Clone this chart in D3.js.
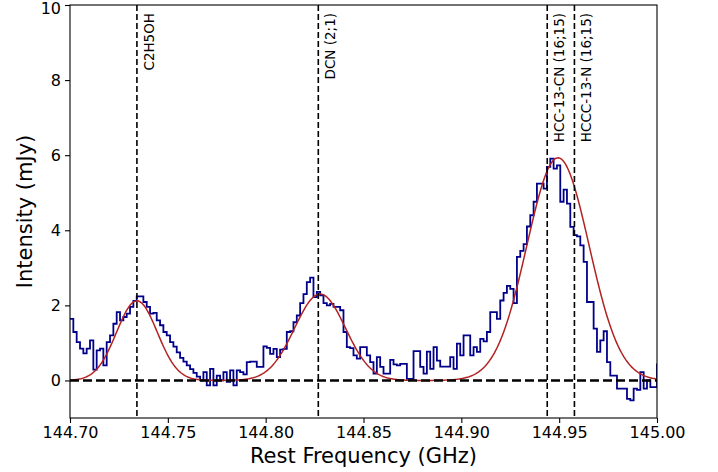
<!DOCTYPE html>
<html>
<head>
<meta charset="utf-8">
<script src="https://cdn.jsdelivr.net/npm/d3@7"></script>
<style>
  body { margin: 0; background: #fff; }
  text { font-family: "DejaVu Sans", sans-serif; fill: #000; }
</style>
</head>
<body>
<div id="chart"></div>
<script>
// spectrum: channels start at 144.70 GHz, constant channel width
const chanStart = 144.70;
const chanWidth = 0.3 / 176;
const intensity = [
  1.64, 1.29, 1.02, 0.85, 0.72, 0.85, 1.07, 0.29, 0.8, 0.85, 0.4, 1.02, 1.2, 1.51, 1.82,
  1.6, 1.69, 1.78, 1.96, 2.12, 2.24, 2.24, 2.09, 1.96, 1.78, 1.8, 1.6, 1.47, 1.29,
  1.2, 1.02, 0.9, 0.75, 0.6, 0.5, 0.4, 0.3, 0.2, 0.1, 0.0, 0.22, -0.13, 0.31, -0.13,
  0.13, 0.0, 0.22, -0.04, 0.27, -0.13, 0.27, 0.22, 0.16, 0.49, 0.5, 0.5, 0.36, 0.36,
  0.91, 0.87, 0.71, 0.84, 0.62, 0.82, 0.84, 1.29, 1.31, 1.55, 1.73, 2.06, 2.3, 2.62,
  2.74, 2.22, 2.36, 2.27, 2.06, 2.0, 2.04, 1.96, 1.96, 1.87, 1.29, 0.89, 0.86, 0.67, 0.58,
  0.89, 0.89, 0.67, 0.49, 0.18, 0.62, 0.36, 0.18, 0.18, 0.55, 0.43, 0.4, 0.44, 0.44,
  0.04, 0.04, 0.78, 0.78, 0.36, 0.18, 0.77, 0.31, 0.89, 0.53, 0.37, 0.37, 0.37, 0.62,
  0.31, 0.98, 0.67, 1.2, 1.2, 0.67, 0.89, 0.76, 1.11, 1.04, 1.29, 1.82, 1.82, 1.64,
  2.13, 2.33, 2.52, 2.44, 2.06, 3.29, 3.45, 3.63, 4.1, 4.4, 4.76, 5.24, 5.24, 5.11, 5.69, 5.91,
  5.64, 5.73, 4.76, 5.08, 4.71, 4.09, 3.87, 3.84, 3.6, 3.16, 2.09, 2.09, 1.38, 0.76,
  1.07, 1.31, 0.49, 0.13, 0.13, -0.22, -0.22, -0.22, -0.49, -0.53, -0.22, -0.25, 0.22,
  -0.22, 0, -0.18, -0.18, 0.43
];

// gaussian fit components
const fitAmps = [2.12, 2.3, 5.93];
const fitCenters = [144.7342, 144.8278, 144.9494];
const fitSigmas = [0.0104, 0.013, 0.0159];

// line identifications
const lineNames = ['C2H5OH', 'DCN (2;1)', 'HCC-13-CN (16;15)', 'HCCC-13-N (16;15)'];
const lineFreqs = [144.7342, 144.8269, 144.9439, 144.9578];

const xTicks = [144.70, 144.75, 144.80, 144.85, 144.90, 144.95, 145.00];
const yTicks = [0, 2, 4, 6, 8, 10];

const width = 718, height = 472;
const margin = { left: 70, right: 61, top: 5, bottom: 54 };

const svg = d3.select('#chart').append('svg')
  .attr('width', width)
  .attr('height', height);

const x = d3.scaleLinear().domain([144.70, 145.00]).range([margin.left, width - margin.right]);
const y = d3.scaleLinear().domain([-1, 10]).range([height - margin.bottom, margin.top]);

svg.append('clipPath').attr('id', 'plotclip')
  .append('rect')
  .attr('x', x(144.70)).attr('y', y(10))
  .attr('width', x(145.00) - x(144.70))
  .attr('height', y(-1) - y(10));

const plot = svg.append('g').attr('clip-path', 'url(#plotclip)');

// step spectrum
const steps = intensity.map((v, i) => ({ f: chanStart + i * chanWidth, v: v }));
steps.push({ f: chanStart + intensity.length * chanWidth, v: intensity[intensity.length - 1] });

plot.append('path')
  .datum(steps)
  .attr('fill', 'none')
  .attr('stroke', '#00008b')
  .attr('stroke-width', 1.8)
  .attr('d', d3.line().x(d => x(d.f)).y(d => y(d.v)).curve(d3.curveStepAfter));

// fit curve
const fitGrid = d3.range(144.70, 145.0005, 0.0005);
const fitCurve = fitGrid.map(f => ({
  f: f,
  v: d3.sum(fitAmps, (a, k) => a * Math.exp(-0.5 * Math.pow((f - fitCenters[k]) / fitSigmas[k], 2)))
}));

plot.append('path')
  .datum(fitCurve)
  .attr('fill', 'none')
  .attr('stroke', '#b22222')
  .attr('stroke-width', 1.5)
  .attr('d', d3.line().x(d => x(d.f)).y(d => y(d.v)));

// zero baseline
plot.append('line')
  .attr('x1', x(144.70)).attr('x2', x(145.00))
  .attr('y1', y(0)).attr('y2', y(0))
  .attr('stroke', '#000')
  .attr('stroke-width', 2.6)
  .attr('stroke-dasharray', '9,4');

// line markers
plot.selectAll('.idline')
  .data(lineFreqs)
  .enter().append('line')
  .attr('class', 'idline')
  .attr('x1', d => x(d)).attr('x2', d => x(d))
  .attr('y1', y(10)).attr('y2', y(-1))
  .attr('stroke', '#000')
  .attr('stroke-width', 1.6)
  .attr('stroke-dasharray', '6,3');

svg.selectAll('.idlabel')
  .data(lineNames)
  .enter().append('text')
  .attr('class', 'idlabel')
  .attr('transform', (d, i) => `translate(${x(lineFreqs[i]) + 17},13) rotate(-90)`)
  .attr('text-anchor', 'end')
  .style('font-size', '13.5px')
  .text(d => d);

// axes
const xAxis = svg.append('g')
  .attr('transform', `translate(0,${y(-1)})`)
  .call(d3.axisBottom(x).tickValues(xTicks).tickFormat(d3.format('.2f')).tickSizeOuter(0).tickSize(5).tickPadding(4));

const yAxis = svg.append('g')
  .attr('transform', `translate(${x(144.70)},0)`)
  .call(d3.axisLeft(y).tickValues(yTicks).tickFormat(d3.format('d')).tickSizeOuter(0).tickSize(5).tickPadding(4));

[xAxis, yAxis].forEach(g => {
  g.selectAll('text').style('font-size', '16px').style('font-family', '"DejaVu Sans", sans-serif');
  g.select('.domain').remove();
  g.selectAll('line').attr('stroke', '#000').attr('stroke-width', 1.1);
});

// keep the top tick label inside the picture
yAxis.selectAll('.tick')
  .filter(d => d === 10)
  .select('text')
  .attr('dy', '0.5em');

// frame
svg.append('rect')
  .attr('x', x(144.70)).attr('y', y(10))
  .attr('width', x(145.00) - x(144.70))
  .attr('height', y(-1) - y(10))
  .attr('fill', 'none')
  .attr('stroke', '#000')
  .attr('stroke-width', 1.1);

svg.append('text')
  .attr('x', (x(144.70) + x(145.00)) / 2)
  .attr('y', 463)
  .attr('text-anchor', 'middle')
  .style('font-size', '21px')
  .text('Rest Frequency (GHz)');

svg.append('text')
  .attr('transform', `translate(32,${(y(10) + y(-1)) / 2}) rotate(-90)`)
  .attr('text-anchor', 'middle')
  .style('font-size', '21px')
  .text('Intensity (mJy)');
</script>
</body>
</html>
